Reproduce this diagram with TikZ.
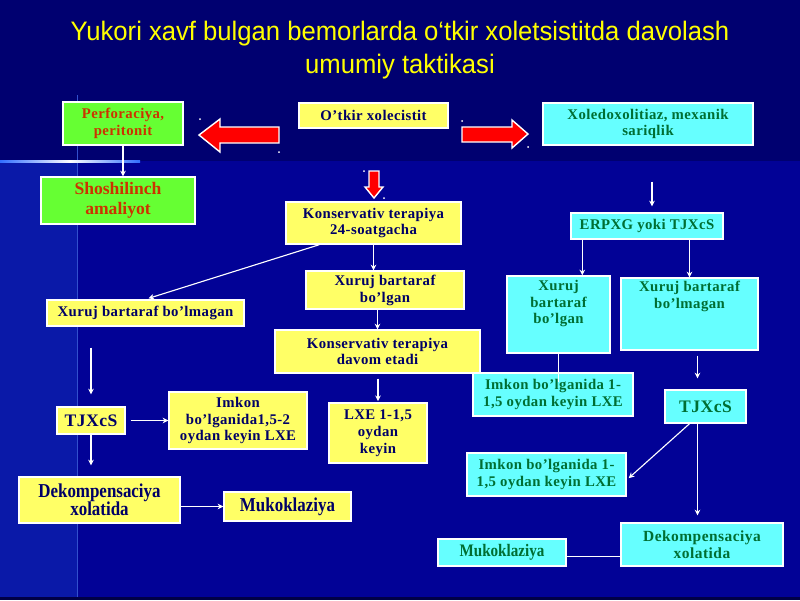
\documentclass[tikz,border=0pt]{standalone}
\usepackage{fontspec}
\setmainfont{Liberation Serif}
\newfontfamily\boxfont[LetterSpace=3]{Liberation Serif}
\newfontfamily\narrowfont[FakeStretch=0.86]{Liberation Serif}
\newfontfamily\titlefont[FakeStretch=0.96]{Liberation Sans}
\usetikzlibrary{arrows.meta}

\definecolor{bgtop}{RGB}{0,0,112}
\definecolor{bgbot}{RGB}{2,2,150}
\definecolor{bgleft}{RGB}{10,25,168}
\definecolor{bgdark}{RGB}{0,0,70}
\definecolor{bgline}{RGB}{50,80,205}
\definecolor{bgshine}{RGB}{50,110,255}
\definecolor{yfill}{RGB}{255,255,102}
\definecolor{cfill}{RGB}{102,255,255}
\definecolor{gfill}{RGB}{102,255,51}
\definecolor{ytext}{RGB}{0,0,102}
\definecolor{ctext}{RGB}{0,110,50}
\definecolor{gtext}{RGB}{204,51,0}
\definecolor{titleyellow}{RGB}{255,255,0}

\tikzset{
  box/.style={draw=white, line width=1pt, inner sep=1pt, align=center,
    font=\boxfont\bfseries\fontsize{10.5}{12}\selectfont},
  ybox/.style={box, fill=yfill, text=ytext},
  cbox/.style={box, fill=cfill, text=ctext},
  gbox/.style={box, fill=gfill, text=gtext},
  ctxt/.style={inner sep=0pt, align=center, text=ctext,
    font=\boxfont\bfseries\fontsize{10.5}{12}\selectfont},
  bigtxt/.style={font=\boxfont\bfseries\fontsize{12.5}{14}\selectfont},
  narrowtxt/.style={font=\narrowfont\bfseries\fontsize{14}{13}\selectfont},
  arr/.style={white, line width=0.8pt, -{Stealth[length=4pt,width=4pt]}},
  link/.style={white, line width=0.8pt},
  redarrow/.style={fill=red, draw=white, line width=1pt, line join=miter},
  title/.style={text=titleyellow, align=center,
    font=\titlefont\fontsize{19}{23}\selectfont},
}

\begin{document}
\begin{tikzpicture}[x=0.025cm, y=-0.025cm]
% background
\fill[bgtop] (0,0) rectangle (800,161);
\fill[bgbot] (0,161) rectangle (800,600);
\fill[bgleft] (0,161) rectangle (77,600);
\fill[bgdark] (0,597) rectangle (800,600);
\draw[bgline, line width=0.5pt] (77,95) -- (77,597);
\shade[left color=bgshine, right color=bgshine, middle color=white] (0,160) rectangle (140,162.5);
\useasboundingbox (0,0) rectangle (800,600);

\node[title] (title) at (400,50) {Yukori xavf bulgan bemorlarda o‘tkir xoletsistitda davolash\\umumiy taktikasi};

% top row
\node[gbox, minimum width=3cm, minimum height=1.075cm] (perf) at (123,123.5) {Perforaciya,\\peritonit};
\node[ybox, minimum width=3.725cm, minimum height=0.625cm] (otkir) at (373.5,115.5) {O’tkir xolecistit};
\node[cbox, minimum width=5.25cm, minimum height=1.05cm] (xoled) at (648,124) {Xoledoxolitiaz, mexanik\\sariqlik};

% red arrows
\draw[redarrow] (279,127) -- (220,127) -- (220,119) -- (199,135) -- (220,152) -- (220,143) -- (279,143) -- cycle;
\draw[redarrow] (462,127) -- (512,127) -- (512,120) -- (528,134) -- (512,148) -- (512,142) -- (462,142) -- cycle;
\draw[redarrow] (369,171) -- (379,171) -- (379,187) -- (383,187) -- (374,198) -- (365,187) -- (369,187) -- cycle;
\fill[white] (200,119) circle (0.025cm) (279,152) circle (0.025cm) (462,121) circle (0.025cm)
  (528,147) circle (0.025cm) (364,171) circle (0.025cm) (384,198) circle (0.025cm);

% left branch
\node[gbox, font=\rmfamily\bfseries\fontsize{12.5}{14}\selectfont, minimum width=3.85cm, minimum height=1.175cm] (shosh) at (118,200.5) {Shoshilinch\\amaliyot};
\node[ybox, minimum width=4.375cm, minimum height=1.05cm] (kons24) at (373.5,223) {Konservativ terapiya\\24-soatgacha};
\node[ybox, minimum width=4.925cm, minimum height=0.65cm] (xbmy) at (145.5,313) {Xuruj bartaraf bo’lmagan};
\node[ybox, minimum width=3.95cm, minimum height=0.95cm] (xbgy) at (385,290) {Xuruj bartaraf\\bo’lgan};
\node[ybox, minimum width=5.125cm, minimum height=1.075cm] (davom) at (377.5,351.5) {Konservativ terapiya\\davom etadi};
\node[ybox, minimum width=2.45cm, minimum height=1.5cm] (lxe) at (378,433) {LXE 1-1,5\\oydan\\keyin};
\node[ybox, bigtxt, minimum width=1.7cm, minimum height=0.675cm] (tjy) at (91,420.5) {TJXcS};
\node[ybox, minimum width=3.45cm, minimum height=1.425cm] (imy) at (238,420.5) {Imkon\\bo’lganida1,5-2\\oydan keyin LXE};
\node[ybox, narrowtxt, minimum width=4.025cm, minimum height=1.15cm] (deky) at (99.5,500) {Dekompensaciya\\xolatida};
\node[ybox, narrowtxt, minimum width=3.175cm, minimum height=0.725cm] (mukoy) at (287.5,506.5) {Mukoklaziya};

% right branch
\node[cbox, minimum width=3.8cm, minimum height=0.65cm] (erpxg) at (647,226) {ERPXG yoki TJXcS};
\node[cbox, minimum width=2.575cm, minimum height=1.925cm] (xbgc) at (558.5,314.5) {};
\node[ctxt, anchor=north] (xbgct) at ([yshift=-0.11cm]xbgc.north) {Xuruj\\bartaraf\\bo’lgan};
\node[cbox, minimum width=3.425cm, minimum height=1.8cm] (xbmc) at (689.5,314) {};
\node[ctxt, anchor=north] (xbmct) at ([yshift=-0.09cm]xbmc.north) {Xuruj bartaraf\\bo’lmagan};
\node[cbox, minimum width=4cm, minimum height=1.075cm] (imc1) at (553,394.5) {Imkon bo’lganida 1-\\1,5 oydan keyin LXE};
\node[cbox, bigtxt, minimum width=2.025cm, minimum height=0.825cm] (tjc) at (705.5,406.5) {TJXcS};
\node[cbox, minimum width=3.975cm, minimum height=1.075cm] (imc2) at (546.5,474.5) {Imkon bo’lganida 1-\\1,5 oydan keyin LXE};
\node[cbox, font=\boxfont\bfseries\fontsize{11}{12.5}\selectfont, minimum width=4.05cm, minimum height=1.075cm] (dekc) at (702,544.5) {Dekompensaciya\\xolatida};
\node[cbox, font=\narrowfont\bfseries\fontsize{12.5}{13}\selectfont, minimum width=3.2cm, minimum height=0.675cm] (mukoc) at (502,552.5) {Mukoklaziya};

% connectors, left
\draw[arr] (perf.south) -- (perf.south |- shosh.north);
\draw[arr] (kons24.south) -- (kons24.south |- xbgy.north);
\draw[arr] (davom.north |- xbgy.south) -- (davom.north);
\draw[arr, shorten <=0.125cm, shorten >=0.03cm] (lxe.north |- davom.south) -- (lxe.north);
\draw[arr, shorten >=0.08cm] ([xshift=0.85cm]kons24.south west) -- (xbmy.north);
\draw[arr, shorten <=0.525cm, shorten >=0.3cm] (tjy.north |- xbmy.south) -- (tjy.north);
\draw[arr, shorten <=0.125cm] (tjy.east) -- (imy.west);
\draw[arr, shorten >=0.275cm] (tjy.south) -- (tjy.south |- deky.north);
\draw[arr] (mukoy.west -| deky.east) -- (mukoy.west);

% connectors, right
\coordinate (erpxgL) at ([xshift=0.3cm]erpxg.south west);
\coordinate (tjcN) at ([xshift=-0.2cm]tjc.north);
\coordinate (tjcS) at ([xshift=-0.2cm]tjc.south);
\coordinate (mukocE) at ([yshift=-0.1cm]mukoc.east);
\draw[arr, shorten <=0.9cm, shorten >=0.15cm] ([xshift=0.1cm]xoled.south) -- ([xshift=0.1cm]xoled.south |- erpxg.north);
\draw[arr] (erpxgL) -- (erpxgL |- xbgc.north);
\draw[arr] (xbmc.north |- erpxg.south) -- (xbmc.north);
\draw[link, shorten >=-0.25cm] (xbgc.south) -- (xbgc.south |- imc1.north);
\draw[arr, shorten <=0.125cm, shorten >=0.275cm] (tjcN |- xbmc.south) -- (tjcN);
\draw[arr, shorten >=0.175cm] (tjcS) -- (tjcS |- dekc.north);
\draw[arr] ([xshift=-0.4cm]tjc.south) -- ([xshift=0.05cm, yshift=-0.09cm]imc2.east);
\draw[link] (mukocE) -- (mukocE -| dekc.west);
\end{tikzpicture}
\end{document}
